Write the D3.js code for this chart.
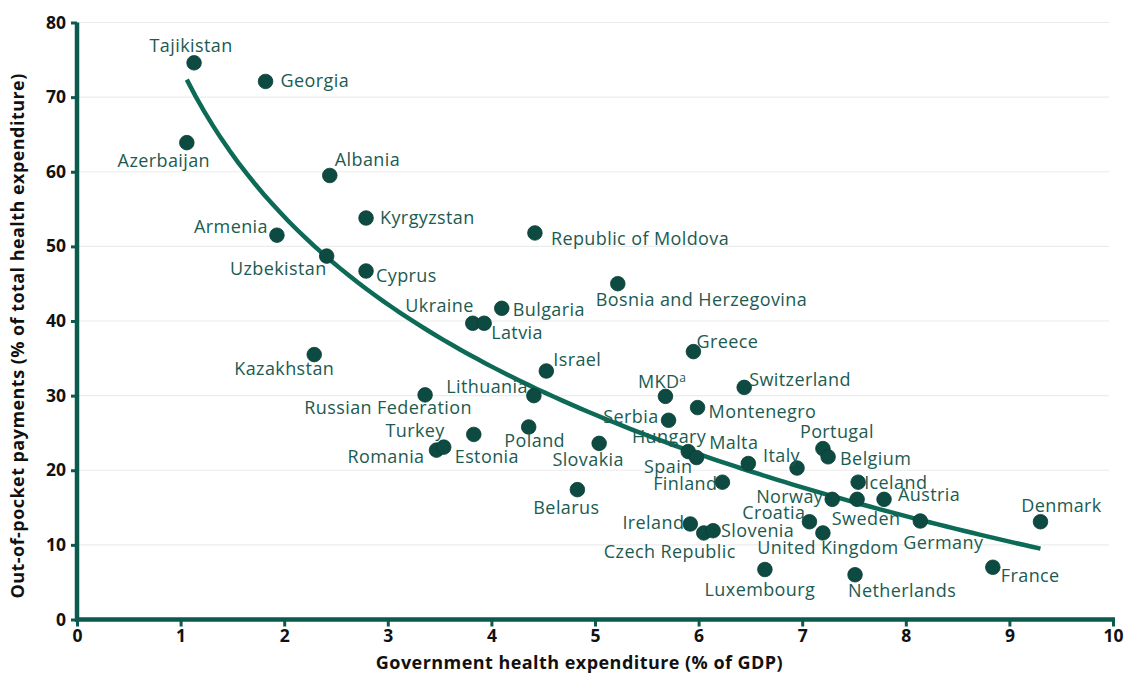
<!DOCTYPE html>
<html>
<head>
<meta charset="utf-8">
<script src="https://cdn.jsdelivr.net/npm/d3@7"></script>
<style>
  html, body { margin: 0; padding: 0; background: #ffffff; }
  svg { display: block; }
  .lbl { font-family: "Open Sans", sans-serif; font-size: 18px; letter-spacing: 0.4px; fill: #1b5b51; }
  .tick text { font-family: "Open Sans", sans-serif; font-weight: 700; font-size: 17.5px; fill: #111; }
  .title { font-family: "Open Sans", sans-serif; font-weight: 700; font-size: 18px; letter-spacing: 0.45px; fill: #111; }
</style>
</head>
<body>
<svg id="chart" width="1129" height="675"></svg>
<script>
// Countries, government health expenditure (% of GDP) and out-of-pocket share (% of THE)
const countries = ["Tajikistan","Georgia","Azerbaijan","Albania","Kyrgyzstan","Armenia","Uzbekistan","Cyprus",
  "Republic of Moldova","Bosnia and Herzegovina","Ukraine","Latvia","Bulgaria","Kazakhstan","Israel","Greece",
  "MKD","Switzerland","Lithuania","Russian Federation","Montenegro","Serbia","Poland","Turkey","Romania","Estonia",
  "Slovakia","Hungary","Spain","Malta","Italy","Portugal","Belgium","Finland","Belarus","Iceland","Norway","Sweden",
  "Austria","Germany","Denmark","Croatia","United Kingdom","Ireland","Czech Republic","Slovenia","Luxembourg",
  "Netherlands","France"];
const govExpenditure = [1.13,1.82,1.06,2.44,2.79,1.93,2.41,2.79,
  4.42,5.22,3.82,3.93,4.10,2.29,4.53,5.95,
  5.68,6.44,4.41,3.36,5.99,5.71,4.36,3.83,3.47,3.54,
  5.04,5.90,5.98,6.48,6.95,7.20,7.25,6.23,4.83,7.54,7.29,7.53,
  7.79,8.14,9.30,7.07,7.20,5.92,6.05,6.14,6.64,
  7.51,8.84];
const outOfPocket = [74.6,72.1,63.9,59.5,53.8,51.5,48.7,46.7,
  51.8,45.0,39.7,39.7,41.7,35.5,33.3,35.9,
  29.9,31.1,30.0,30.1,28.4,26.7,25.8,24.8,22.7,23.1,
  23.6,22.5,21.7,20.9,20.3,22.9,21.8,18.4,17.4,18.4,16.1,16.1,
  16.1,13.2,13.1,13.1,11.6,12.8,11.6,11.9,6.7,
  6.0,7.0];
// Label placement: [anchor, dx, dy] relative to each point
const labelPlacement = [["middle",-3,-11],["start",15,6],["middle",-23,24],["start",5,-9],["start",14,6],["end",-9,-2],["end",0,19],["start",10,11],
  ["start",16,12],["start",-22,22],["end",1,-11],["start",7,16],["start",11,8],["end",20,20],["start",7,-5],["start",3,-4],
  ["end",21,-8],["start",5,-1],["end",-6,-3],["middle",-37,19],["start",11,10],["end",-10,3],["middle",6,20],["end",-29,3],["end",-12,13],["start",11,16],
  ["middle",-11,23],["end",18,-9],["end",-4,15],["end",10,-15],["end",3,-6],["middle",14,-11],["start",12,8],["end",-5,8],["middle",-11,24],["start",6,7],["end",-9,4],["middle",9,26],
  ["start",14,2],["middle",23,28],["middle",21,-10],["end",-4,-3],["middle",5,21],["end",-6,5],["middle",-34,25],["start",8,6],["middle",-5,26],
  ["start",-7,22],["start",8,15]];
const xTicks = [0,1,2,3,4,5,6,7,8,9,10];
const yTicks = [0,10,20,30,40,50,60,70,80];

const svg = d3.select("#chart");
const margin = {left: 77, right: 16, top: 22.5, bottom: 55.5};
const W = 1129, H = 675;
const x = d3.scaleLinear().domain([0, 10]).range([margin.left, W - margin.right]);
const y = d3.scaleLinear().domain([0, 80]).range([H - margin.bottom, margin.top]);

const teal = "#0b5a4e";

// Horizontal gridlines
svg.append("g").selectAll("line").data(yTicks.filter(d => d > 0)).join("line")
  .attr("x1", x(0)).attr("x2", x(10) - 4)
  .attr("y1", d => y(d)).attr("y2", d => y(d))
  .attr("stroke", "#ececec").attr("stroke-width", 1.2);

// Logarithmic trend line fitted to the points (least squares on ln x)
const lx = govExpenditure.map(Math.log);
const mx = d3.mean(lx), my = d3.mean(outOfPocket);
const slope = d3.sum(lx, (v, i) => (v - mx) * (outOfPocket[i] - my)) / d3.sum(lx, v => (v - mx) * (v - mx));
const intercept = my - slope * mx;
const xMin = d3.min(govExpenditure), xMax = d3.max(govExpenditure);
const trendXs = d3.range(0, 101).map(i => xMin + (xMax - xMin) * i / 100);
svg.append("path")
  .datum(trendXs)
  .attr("fill", "none")
  .attr("stroke", "#0c6a57")
  .attr("stroke-width", 4.5)
  .attr("d", d3.line().x(d => x(d)).y(d => y(intercept + slope * Math.log(d))));

// Points
const pts = countries.map((c, i) => ({c, gx: govExpenditure[i], op: outOfPocket[i], p: labelPlacement[i]}));
svg.append("g").selectAll("circle").data(pts).join("circle")
  .attr("cx", d => x(d.gx)).attr("cy", d => y(d.op)).attr("r", 7.3)
  .attr("fill", "#0d4a41").attr("stroke", "#0a3d35").attr("stroke-width", 0.8);

// Country labels
const lbl = svg.append("g").selectAll("text").data(pts).join("text")
  .attr("class", "lbl")
  .attr("x", d => x(d.gx) + d.p[1])
  .attr("y", d => y(d.op) + d.p[2])
  .attr("text-anchor", d => d.p[0]);
lbl.each(function(d) {
  const t = d3.select(this);
  t.append("tspan").text(d.c);
  if (d.c === "MKD") t.append("tspan").attr("dy", -6).attr("font-size", "12px").text("a");
});

// Axes
const xAxis = svg.append("g").attr("transform", `translate(0,${y(0)})`)
  .call(d3.axisBottom(x).tickValues(xTicks).tickFormat(d3.format("d")).tickSize(7).tickSizeOuter(0).tickPadding(3));
const yAxis = svg.append("g").attr("transform", `translate(${x(0)},0)`)
  .call(d3.axisLeft(y).tickValues(yTicks).tickSize(6).tickSizeOuter(0).tickPadding(5));
[xAxis, yAxis].forEach(a => {
  a.select(".domain").attr("stroke", teal).attr("stroke-width", 4.5);
  a.selectAll(".tick line").attr("stroke", teal).attr("stroke-width", 3);
});
yAxis.select(".domain").attr("d", `M0,${y(80)}V${y(0) + 2}`);
xAxis.select(".domain").attr("d", `M${x(0) - 2},0H${x(10) + 2}`);

// Axis titles
svg.append("text").attr("class", "title")
  .attr("x", x(4.85)).attr("y", 669).attr("text-anchor", "middle")
  .text("Government health expenditure (% of GDP)");
svg.append("text").attr("class", "title")
  .attr("transform", `translate(24,${y(38)}) rotate(-90)`)
  .attr("text-anchor", "middle")
  .text("Out-of-pocket payments (% of total health expenditure)");
</script>
</body>
</html>
